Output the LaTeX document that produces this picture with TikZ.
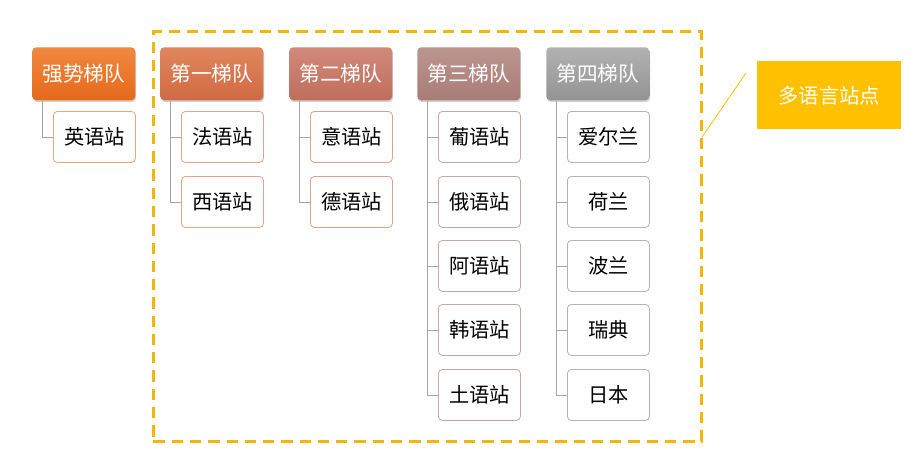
\documentclass[tikz,border=0pt]{standalone}
\usepackage{fontspec}
\setmainfont{Noto Sans CJK SC}
\usetikzlibrary{shadows,calc}
\definecolor{gold}{HTML}{F2B705}
\definecolor{labelfill}{HTML}{FFC000}
\definecolor{treeline}{HTML}{A6A6A6}
\definecolor{t0}{HTML}{F1883F}\definecolor{u0}{HTML}{E56A1A}
\definecolor{t1}{HTML}{E0865E}\definecolor{u1}{HTML}{D06A42}
\definecolor{t2}{HTML}{D08A7A}\definecolor{u2}{HTML}{C06E5C}
\definecolor{t3}{HTML}{BD9590}\definecolor{u3}{HTML}{A97C76}
\definecolor{t4}{HTML}{B2B2B2}\definecolor{u4}{HTML}{939393}
\definecolor{b0}{HTML}{EEA57A}
\definecolor{b1}{HTML}{E3A58A}
\definecolor{b2}{HTML}{D9A293}
\definecolor{b3}{HTML}{CCA6A2}
\definecolor{b4}{HTML}{BDB0AE}
\begin{document}
\begin{tikzpicture}[x=0.75pt,y=-0.75pt,
  head/.style={minimum width=77.25pt,minimum height=39.75pt,rounded corners=3pt,
    text=white,font=\fontsize{15.5}{17}\selectfont,inner sep=0pt,anchor=north west,
    drop shadow={shadow xshift=0.6pt,shadow yshift=-1.4pt,opacity=0.35}},
  leaf/.style={draw=#1,fill=white,line width=0.6pt,minimum width=61.5pt,minimum height=38.25pt,
    rounded corners=3pt,font=\fontsize{15.2}{17}\selectfont,inner sep=0pt,anchor=north west},
  tree/.style={draw=treeline,line width=0.6pt}]
\useasboundingbox (0,0) rectangle (921,457);
% dashed frame
\node[draw=gold,line width=2.2pt,dash pattern=on 8.5pt off 5.2pt,minimum width=411pt,minimum height=307.5pt,inner sep=0pt,anchor=north west] (frame) at (152,30) {};
% headers
\node[head,top color=t0,bottom color=u0] (h0) at (32,47) {强势梯队};
\node[head,top color=t1,bottom color=u1] (h1) at (160,47) {第一梯队};
\node[head,top color=t2,bottom color=u2] (h2) at (289,47) {第二梯队};
\node[head,top color=t3,bottom color=u3] (h3) at (417,47) {第三梯队};
\node[head,top color=t4,bottom color=u4] (h4) at (546,47) {第四梯队};
% leaves
\node[leaf=b0] (c01) at (53,111) {英语站};
\node[leaf=b1] (c11) at (181,111) {法语站};
\node[leaf=b1] (c12) at (181,176) {西语站};
\node[leaf=b2] (c21) at (310,111) {意语站};
\node[leaf=b2] (c22) at (310,176) {德语站};
\node[leaf=b3] (c31) at (438,111) {葡语站};
\node[leaf=b3] (c32) at (438,176) {俄语站};
\node[leaf=b3] (c33) at (438,240) {阿语站};
\node[leaf=b3] (c34) at (438,304) {韩语站};
\node[leaf=b3] (c35) at (438,369) {土语站};
\node[leaf=b4] (c41) at (567,111) {爱尔兰};
\node[leaf=b4] (c42) at (567,176) {荷兰};
\node[leaf=b4] (c43) at (567,240) {波兰};
\node[leaf=b4] (c44) at (567,304) {瑞典};
\node[leaf=b4] (c45) at (567,369) {日本};
% tree lines
\draw[tree] ([xshift=7.5pt]h0.south west) |- (c01.west);
\foreach \c in {c11,c12} \draw[tree] ([xshift=7.5pt]h1.south west) |- (\c.west);
\foreach \c in {c21,c22} \draw[tree] ([xshift=7.5pt]h2.south west) |- (\c.west);
\foreach \c in {c31,c32,c33,c34,c35} \draw[tree] ([xshift=7.5pt]h3.south west) |- (\c.west);
\foreach \c in {c41,c42,c43,c44,c45} \draw[tree] ([xshift=7.5pt]h4.south west) |- (\c.west);
% label
\node[fill=labelfill,minimum width=108pt,minimum height=51pt,inner sep=0pt,anchor=north west,
  text=white,font=\fontsize{15.3}{17}\selectfont] (lab) at (757,61) {多语言站点};
\coordinate (p1) at (746,73);
\coordinate (p2) at (702,137);
\draw[labelfill,line width=0.6pt] (p1) -- (p2);
\end{tikzpicture}
\end{document}
